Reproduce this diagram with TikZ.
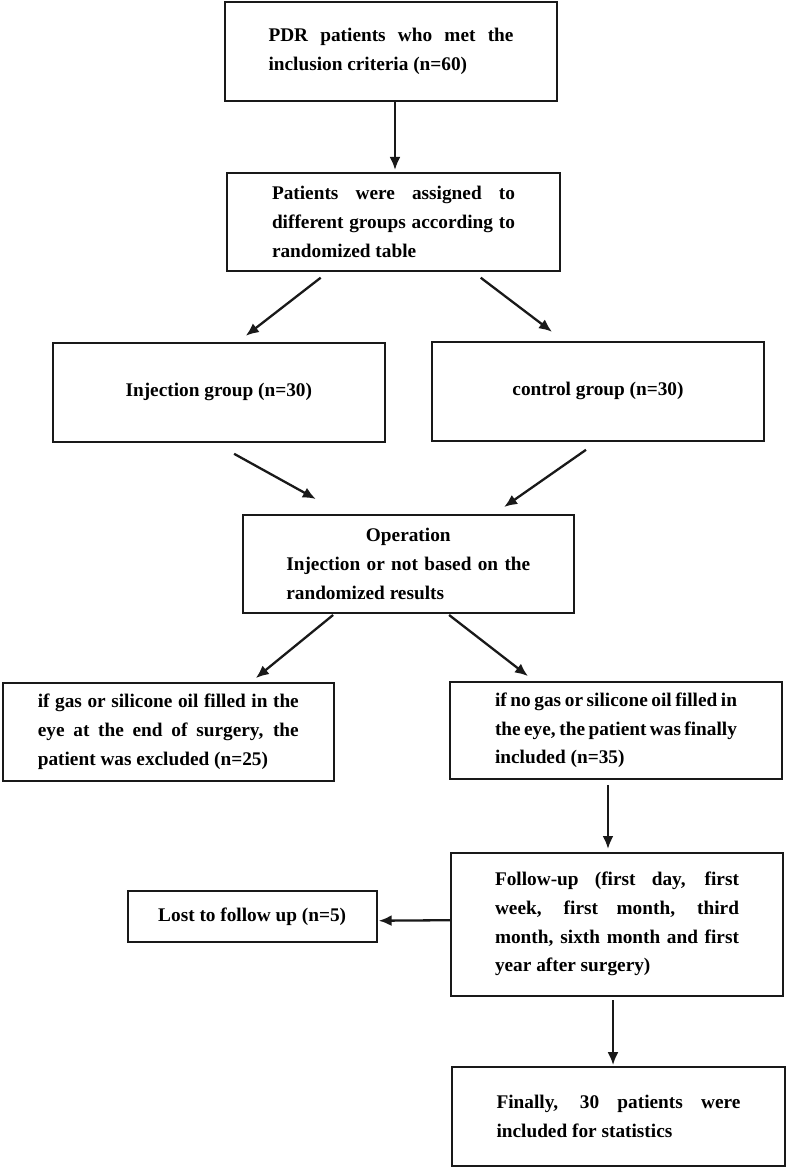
\documentclass[tikz,border=0pt]{standalone}
\usepackage{fontspec}
\setmainfont{Liberation Serif}
\usetikzlibrary{arrows.meta,calc}
\newcommand\jl[2]{\makebox[#1][s]{#2}}
\begin{document}
\begin{tikzpicture}[x=1pt,y=-1pt,
  box/.style={draw=black!90, line width=2pt, rectangle, inner sep=0pt, align=left,
    font=\fontsize{19.3}{28.7}\selectfont\bfseries, minimum width=332pt, minimum height=98pt},
  arr/.style={draw=black!90, line width=2.3pt, -{Latex[length=13pt,width=11pt]}}]
\useasboundingbox (0,0) rectangle (787,1169);

\node[box, minimum height=99pt] (top) at (391,51.5)
  {\jl{245pt}{PDR patients who met the}\\inclusion criteria (n=60)};
\node[box, minimum width=333pt] (box2) at (393.5,222)
  {\jl{243pt}{Patients were assigned to}\\\jl{243pt}{different groups according to}\\randomized table};
\node[box, minimum height=99pt] (inj) at (218.8,392.3) {Injection group (n=30)};
\node[box, minimum height=99pt] (ctrl) at (598,391.3) {control group (n=30)};
\node[box, minimum width=331pt] (op) at (408.3,564)
  {\makebox[244pt]{Operation}\\\jl{244pt}{Injection or not based on the}\\randomized results};
\node[box, minimum width=331pt] (excl) at (168.3,731.8)
  {\jl{261pt}{if gas or silicone oil filled in the}\\\jl{261pt}{eye at the end of surgery, the}\\patient was excluded (n=25)};
\node[box, minimum height=97pt] (incl) at (616,730.3)
  {\jl{242pt}{if no gas or silicone oil filled in}\\\jl{242pt}{the eye, the patient was finally}\\included (n=35)};
\node[box, minimum height=143pt] (fu) at (617,924.2)
  {\jl{244pt}{Follow-up (first day, first}\\\jl{244pt}{week, first month, third}\\\jl{244pt}{month, sixth month and first}\\year after surgery)};
\node[box, minimum width=249pt, minimum height=51pt] (lost) at (252.2,916.7) {Lost to follow up (n=5)};
\node[box, minimum width=333pt, minimum height=99pt] (fin) at (618.5,1116.3)
  {\jl{244pt}{Finally, 30 patients were}\\included for statistics};

\draw[arr] ($(top.south west)+(171,0)$) -- ($(box2.north west)+(169,-2)$);
\draw[arr] ($(box2.south west)+(94.7,5.7)$) -- ($(inj.north west)+(194,-6)$);
\draw[arr] ($(box2.south west)+(254.7,5.7)$) -- ($(ctrl.north west)+(121,-9)$);
\draw[arr] ($(inj.south west)+(182.3,11)$) -- ($(op.north west)+(74,-15)$);
\draw[arr] ($(ctrl.south west)+(155,8)$) -- ($(op.north west)+(262.3,-7)$);
\draw[arr] ($(op.south west)+(91.3,1)$) -- ($(excl.north west)+(254,-3.7)$);
\draw[arr] ($(op.south west)+(207.3,1)$) -- ($(incl.north west)+(79,-4.7)$);
\draw[arr] ($(incl.south west)+(159,5)$) -- ($(fu.north west)+(158,-2.7)$);
\draw[arr] ($(fu.west)+(0,-4)$) -- ($(lost.east)+(1,4)$);
\draw[arr] ($(fu.south west)+(163,3.3)$) -- ($(fin.north west)+(162,-0.7)$);
\end{tikzpicture}
\end{document}
